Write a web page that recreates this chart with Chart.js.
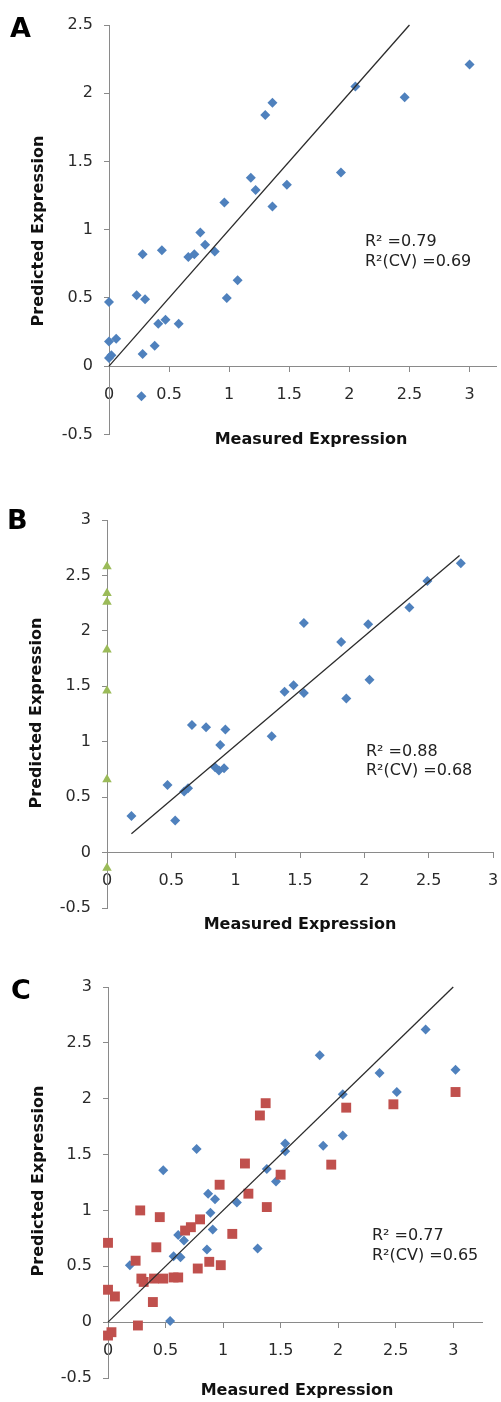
<!DOCTYPE html>
<html>
<head>
<meta charset="utf-8">
<script src="https://cdn.jsdelivr.net/npm/chart.js@4.4.1/dist/chart.umd.min.js"></script>
<style>
    html, body { margin: 0; padding: 0; background: #fff; }
    #figura { position: relative; width: 501px; height: 1402px; overflow: hidden; font-family: 'DejaVu Sans', sans-serif; color: #222; }
    #figura canvas { position: absolute; left: 0; }
    .letra { position: absolute; font-family: 'DejaVu Sans', sans-serif; font-weight: bold; font-size: 27px; line-height: 1; transform: translateY(-50%); color: #000; }
    .titulo-x, .titulo-y { position: absolute; font-weight: bold; font-size: 16px; white-space: nowrap; line-height: 1; color: #111; }
    .titulo-x { transform: translate(-50%, -50%); }
    .titulo-y { transform: translate(-50%, -50%) rotate(-90deg); }
    .r2 { position: absolute; font-size: 16px; white-space: nowrap; line-height: 1; transform: translateY(-50%); }
</style>
</head>
<body>
<div id="figura">
    <canvas id="graficoA" width="501" height="455" style="top:0px"></canvas>
    <canvas id="graficoB" width="501" height="480" style="top:455px"></canvas>
    <canvas id="graficoC" width="501" height="467" style="top:935px"></canvas>

    <div class="letra" style="left:10px; top:27px">A</div>
    <div class="letra" style="left:7px; top:519px">B</div>
    <div class="letra" style="left:11px; top:989px">C</div>

    <div class="titulo-y" style="left:38px; top:231px">Predicted Expression</div>
    <div class="titulo-y" style="left:36px; top:713px">Predicted Expression</div>
    <div class="titulo-y" style="left:38px; top:1181px">Predicted Expression</div>

    <div class="titulo-x" style="left:311px; top:439px">Measured Expression</div>
    <div class="titulo-x" style="left:300px; top:924px">Measured Expression</div>
    <div class="titulo-x" style="left:297px; top:1390px">Measured Expression</div>

    <div class="r2" style="left:365px; top:241px">R² =0.79</div>
    <div class="r2" style="left:365px; top:261px">R²(CV) =0.69</div>
    <div class="r2" style="left:366px; top:751px">R² =0.88</div>
    <div class="r2" style="left:366px; top:770px">R²(CV) =0.68</div>
    <div class="r2" style="left:372px; top:1235px">R² =0.77</div>
    <div class="r2" style="left:372px; top:1255px">R²(CV) =0.65</div>
</div>
<script>
// painel A
const aMeasured = [0, 0, 0.06, 0, 0.02, 0.28, 0.44, 0.23, 0.30, 0.28, 0.38, 0.41, 0.47, 0.58, 0.27, 0.66, 0.71, 0.76, 0.80, 0.88, 0.98, 1.07, 0.96, 1.18, 1.22, 1.36, 1.48, 1.30, 1.36, 2.05, 1.93, 2.46, 3.00];
const aPredicted = [0.47, 0.18, 0.20, 0.06, 0.08, 0.82, 0.85, 0.52, 0.49, 0.09, 0.15, 0.31, 0.34, 0.31, -0.22, 0.80, 0.82, 0.98, 0.89, 0.84, 0.50, 0.63, 1.20, 1.38, 1.29, 1.17, 1.33, 1.84, 1.93, 2.05, 1.42, 1.97, 2.21];
const aFitX = [0, 2.5];
const aFitY = [0, 2.5];

// painel B
const bMeasured = [0.19, 0.47, 0.53, 0.60, 0.63, 0.66, 0.77, 0.92, 0.88, 0.84, 0.87, 0.91, 1.28, 1.38, 1.45, 1.53, 1.86, 2.04, 1.53, 1.82, 2.03, 2.35, 2.49, 2.75];
const bPredicted = [0.33, 0.61, 0.29, 0.55, 0.58, 1.15, 1.13, 1.11, 0.97, 0.77, 0.74, 0.76, 1.05, 1.45, 1.51, 1.44, 1.39, 1.56, 2.07, 1.90, 2.06, 2.21, 2.45, 2.61];
const bZeroMeasured = [0, 0, 0, 0, 0, 0, 0];
const bZeroPredicted = [2.58, 2.34, 2.26, 1.83, 1.46, 0.66, -0.14];
const bFitX = [0.19, 2.74];
const bFitY = [0.17, 2.68];

// painel C
const cBlueMeasured = [0.54, 0.19, 0.48, 0.57, 0.63, 0.61, 0.66, 0.77, 0.86, 0.89, 0.91, 0.87, 0.93, 1.12, 1.30, 1.38, 1.46, 1.54, 1.54, 1.87, 2.04, 2.04, 1.84, 2.36, 2.51, 2.76, 3.02];
const cBluePredicted = [0.01, 0.51, 1.36, 0.59, 0.58, 0.78, 0.73, 1.55, 0.65, 0.98, 0.83, 1.15, 1.10, 1.07, 0.66, 1.37, 1.26, 1.53, 1.60, 1.58, 1.67, 2.04, 2.39, 2.23, 2.06, 2.62, 2.26];
const cRedMeasured = [0, 0, 0.06, 0, 0.03, 0.24, 0.28, 0.26, 0.29, 0.31, 0.39, 0.42, 0.45, 0.40, 0.48, 0.57, 0.61, 0.67, 0.72, 0.80, 0.78, 0.88, 0.98, 0.97, 1.08, 1.19, 1.22, 1.38, 1.50, 1.94, 1.37, 1.32, 2.07, 2.48, 3.02];
const cRedPredicted = [0.71, 0.29, 0.23, -0.12, -0.09, 0.55, 1.00, -0.03, 0.39, 0.36, 0.18, 0.67, 0.94, 0.39, 0.39, 0.40, 0.40, 0.82, 0.85, 0.92, 0.48, 0.54, 0.51, 1.23, 0.79, 1.42, 1.15, 1.03, 1.32, 1.41, 1.96, 1.85, 1.92, 1.95, 2.06];
const cFitX = [0, 3];
const cFitY = [0, 3];

(function () {
    const AZUL = '#4f81bd';
    const VERMELHO = '#c0504d';
    const VERDE = '#9bbb59';
    const EIXO = '#8a8a8a';

    Chart.defaults.font.family = "'DejaVu Sans', sans-serif";
    Chart.defaults.font.size = 16;
    Chart.defaults.color = '#2a2a2a';

    function pontos(xs, ys) {
        return xs.map(function (x, i) {
            return { x: x, y: ys[i] };
        });
    }

    // rótulos como no Excel: 1 em vez de 1.0
    function rotulo(valor) {
        return String(Math.round(valor * 10) / 10);
    }

    function serie(xs, ys, cor, forma, raio, ordem) {
        return {
            type: 'scatter',
            data: pontos(xs, ys),
            pointStyle: forma,
            pointRadius: raio,
            pointBackgroundColor: cor,
            pointBorderColor: cor,
            pointBorderWidth: 0,
            clip: false,
            order: ordem
        };
    }

    function reta(xs, ys) {
        return {
            type: 'line',
            data: pontos(xs, ys),
            borderColor: '#2b2b2b',
            borderWidth: 1.3,
            pointRadius: 0,
            fill: false,
            clip: false,
            order: 0
        };
    }

    function criarPainel(id, datasets, eixo) {
        new Chart(document.getElementById(id), {
            type: 'scatter',
            data: { datasets: datasets },
            options: {
                responsive: false,
                animation: false,
                layout: {
                    padding: { left: 0, right: eixo.direita, top: eixo.topo, bottom: eixo.base }
                },
                plugins: {
                    legend: { display: false },
                    tooltip: { enabled: false }
                },
                scales: {
                    x: {
                        type: 'linear',
                        position: { y: 0 },
                        min: 0,
                        max: eixo.xMax,
                        grid: { display: true, drawOnChartArea: false, tickLength: 5, color: EIXO },
                        border: { color: EIXO, width: 1 },
                        ticks: { stepSize: 0.5, includeBounds: false, padding: 14, maxRotation: 0, callback: rotulo },
                        afterFit: function (scale) {
                            // o eixo fica dentro da área do gráfico, sem margem extra
                            scale.paddingLeft = 0;
                            scale.paddingRight = 0;
                        }
                    },
                    y: {
                        type: 'linear',
                        position: 'left',
                        min: -0.5,
                        max: eixo.yMax,
                        grid: { display: true, drawOnChartArea: false, tickLength: 5, color: EIXO },
                        border: { color: EIXO, width: 1 },
                        ticks: { stepSize: 0.5, padding: 11, callback: rotulo },
                        afterFit: function (scale) {
                            scale.width = eixo.esquerda;
                        }
                    }
                }
            }
        });
    }

    criarPainel('graficoA', [
        reta(aFitX, aFitY),
        serie(aMeasured, aPredicted, AZUL, 'rectRot', 5, 1)
    ], { esquerda: 109, direita: 1, topo: 25, base: 18, xMax: 3.22, yMax: 2.5 });

    criarPainel('graficoB', [
        reta(bFitX, bFitY),
        serie(bMeasured, bPredicted, AZUL, 'rectRot', 5, 1),
        serie(bZeroMeasured, bZeroPredicted, VERDE, 'triangle', 5.5, 2)
    ], { esquerda: 107, direita: 8, topo: 65, base: 27, xMax: 3, yMax: 3 });

    criarPainel('graficoC', [
        reta(cFitX, cFitY),
        serie(cRedMeasured, cRedPredicted, VERMELHO, 'rect', 7, 1),
        serie(cBlueMeasured, cBluePredicted, AZUL, 'rectRot', 5, 2)
    ], { esquerda: 108, direita: 19, topo: 52, base: 24, xMax: 3.25, yMax: 3 });
})();
</script>
</body>
</html>
